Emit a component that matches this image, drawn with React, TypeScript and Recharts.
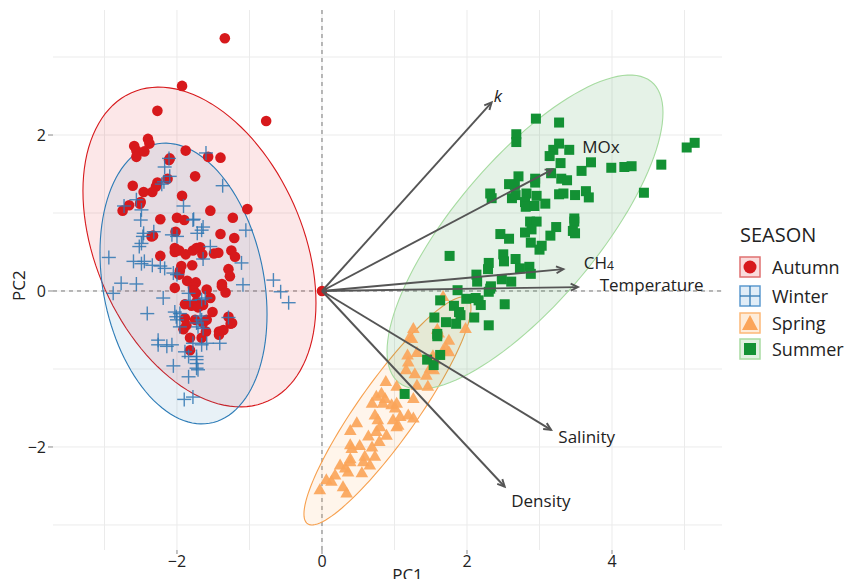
import React from 'react'
import { ScatterChart, Scatter, XAxis, YAxis, CartesianGrid, ReferenceLine } from 'recharts'

// axis ranges, ticks, grid
const X_DOMAIN = [-3.71, 5.517]
const Y_DOMAIN = [-3.321, 3.603]
const X_TICKS = [-2, 0, 2, 4]
const Y_TICKS = [-2, 0, 2]
const X_GRID = [-3, -2, -1, 0, 1, 2, 3, 4, 5]
const Y_GRID = [-3, -2, -1, 0, 1, 2, 3]

const SEASONS = ['Autumn', 'Winter', 'Spring', 'Summer']

// PC scores
const autumn = [
  [-1.34, 3.24], [-1.93, 2.63], [-2.27, 2.31], [-0.77, 2.18], [-2.40, 1.95], [-2.38, 1.89], [-2.59, 1.86],
  [-2.56, 1.80], [-2.56, 1.72], [-2.45, 1.79], [-1.88, 1.80], [-1.57, 1.72], [-1.40, 1.71], [-2.11, 1.68],
  [-2.10, 1.70], [-1.75, 1.47], [-2.13, 1.44], [-2.27, 1.39], [-2.29, 1.34], [-2.34, 1.27], [-2.46, 1.27],
  [-2.61, 1.35], [-2.50, 1.14], [-2.51, 1.12], [-2.66, 1.10], [-2.75, 1.03], [-1.93, 1.22], [-1.54, 1.03],
  [-1.03, 1.05], [-1.23, 0.94], [-2.23, 0.92], [-2.00, 0.94], [-1.90, 0.91], [-1.40, 0.73], [-1.21, 0.68],
  [-2.33, 0.71], [-2.35, 0.70], [-2.02, 0.76], [-2.03, 0.55], [-2.03, 0.50], [-1.97, 0.52], [-1.88, 0.47],
  [-1.78, 0.52], [-1.73, 0.55], [-1.68, 0.56], [-1.65, 0.47], [-1.49, 0.48], [-1.43, 0.49], [-1.25, 0.52],
  [-1.20, 0.44], [-2.23, 0.45], [-1.79, 0.33], [-1.94, 0.32], [-1.96, 0.26], [-1.97, 0.21], [-1.29, 0.28],
  [-1.27, 0.19], [-1.86, 0.13], [-1.74, 0.11], [-1.78, 0.05], [-1.77, 0.01], [-1.74, -0.03], [-2.03, 0.04],
  [-1.59, 0.02], [-1.38, 0.09], [-1.38, 0.06], [-1.33, -0.02], [-1.54, -0.09], [-1.89, -0.17], [-1.80, -0.19],
  [-1.73, -0.14], [-1.68, -0.19], [-1.64, -0.18], [-1.71, -0.21], [-1.51, -0.27], [-1.89, -0.35], [-1.87, -0.44],
  [-1.91, -0.49], [-1.75, -0.37], [-1.64, -0.41], [-1.59, -0.37], [-1.60, -0.52], [-1.66, -0.60], [-1.82, -0.60],
  [-1.82, -0.76], [-1.29, -0.33], [-1.26, -0.42], [-1.24, -0.41], [-1.42, -0.52], [-1.36, -0.50], [-1.42, -0.56],
  [0.0, 0.0],
]

const winter = [
  [-2.11, 1.70], [-2.17, 1.59], [-1.60, 1.77], [-2.10, 1.47], [-2.18, 1.40], [-2.21, 1.37], [-1.37, 1.35],
  [-2.56, 1.17], [-2.73, 1.09], [-2.49, 1.04], [-2.50, 0.91], [-1.91, 1.09], [-1.77, 0.92], [-1.64, 0.82],
  [-1.72, 0.74], [-1.66, 0.78], [-2.46, 0.74], [-2.32, 0.76], [-2.07, 0.72], [-2.00, 0.70], [-1.05, 0.78],
  [-1.78, 0.91], [-2.47, 0.70], [-2.52, 0.57], [-2.49, 0.61], [-1.54, 0.57], [-2.94, 0.43], [-2.60, 0.38],
  [-2.49, 0.35], [-2.45, 0.38], [-2.34, 0.33], [-2.23, 0.32], [-2.17, 0.29], [-2.05, 0.23], [-2.00, 0.21],
  [-1.64, 0.41], [-1.11, 0.36], [-2.77, 0.10], [-2.56, 0.09], [-2.88, -0.03], [-1.09, 0.08], [-0.67, 0.14],
  [-0.57, -0.01], [-0.46, -0.15], [-2.19, -0.09], [-1.84, -0.03], [-1.82, -0.12], [-1.66, -0.11], [-1.61, -0.09],
  [-2.41, -0.29], [-2.03, -0.27], [-2.01, -0.33], [-1.96, -0.29], [-2.00, -0.37], [-1.68, -0.32], [-1.66, -0.37],
  [-1.73, -0.41], [-1.71, -0.46], [-1.64, -0.48], [-1.29, -0.34], [-1.96, -0.46], [-2.26, -0.63], [-2.26, -0.69],
  [-2.14, -0.71], [-2.07, -0.69], [-1.89, -0.78], [-1.84, -0.84], [-1.73, -0.84], [-1.78, -0.67], [-1.66, -0.69],
  [-1.59, -0.67], [-1.41, -0.67], [-1.73, -0.93], [-1.73, -0.99], [-2.05, -0.96], [-1.84, -1.10], [-1.90, -1.39],
  [-1.78, -1.36], [-1.73, -0.88], [-1.71, -1.01],
]

const spring = [
  [1.67, -0.07], [1.98, -0.48], [1.26, -0.48], [1.21, -0.59], [1.24, -0.61], [1.75, -0.63], [1.59, -0.49],
  [1.61, -0.54], [1.71, -0.73], [1.31, -0.79], [1.18, -0.82], [1.19, -0.91], [1.16, -1.01], [1.28, -1.06],
  [1.44, -1.08], [1.53, -0.83], [1.55, -0.88], [1.67, -0.76], [1.75, -0.78], [1.54, -1.01], [1.49, -0.99],
  [1.31, -1.21], [1.46, -1.22], [1.26, -1.38], [0.88, -1.16], [1.03, -1.22], [0.82, -1.31], [0.75, -1.35],
  [0.69, -1.44], [0.87, -1.38], [0.84, -1.44], [0.96, -1.46], [1.03, -1.44], [1.01, -1.50], [1.08, -1.61],
  [1.19, -1.59], [1.26, -1.63], [1.03, -1.74], [0.98, -1.65], [1.05, -1.72], [0.73, -1.59], [0.77, -1.65],
  [0.80, -1.74], [0.75, -1.80], [0.48, -1.69], [0.39, -1.79], [0.64, -1.86], [0.89, -1.85], [0.79, -1.93],
  [0.69, -2.00], [0.73, -2.12], [0.52, -1.98], [0.39, -1.97], [0.41, -2.02], [0.25, -2.23], [0.59, -2.12],
  [0.57, -2.19], [0.66, -2.23], [0.39, -2.19], [0.32, -2.27], [0.36, -2.32], [0.55, -2.33], [0.06, -2.42],
  [0.18, -2.36], [0.13, -2.44], [-0.03, -2.55], [0.29, -2.51], [0.34, -2.59], [0.39, -2.15],
]

const summer = [
  [2.95, 2.21], [3.27, 2.16], [2.68, 2.01], [2.68, 1.91], [3.27, 1.89], [3.19, 1.81], [3.14, 1.73],
  [3.41, 1.81], [3.29, 1.64], [3.71, 1.65], [3.58, 1.54], [3.16, 1.51], [3.99, 1.58], [4.17, 1.59],
  [4.27, 1.60], [4.68, 1.62], [5.03, 1.84], [5.14, 1.90], [4.44, 1.26], [2.71, 1.47], [2.58, 1.37],
  [2.66, 1.36], [2.94, 1.44], [2.94, 1.39], [3.30, 1.44], [3.38, 1.42], [2.32, 1.25], [2.34, 1.19],
  [2.62, 1.19], [2.67, 1.23], [2.82, 1.25], [2.80, 1.14], [2.81, 1.08], [2.96, 1.22], [2.93, 1.09],
  [3.08, 1.12], [3.27, 1.24], [3.33, 1.25], [3.49, 1.23], [3.64, 1.28], [3.68, 1.20], [2.87, 0.89],
  [2.96, 0.89], [2.89, 0.79], [2.80, 0.75], [2.46, 0.73], [2.58, 0.67], [3.23, 0.82], [3.15, 0.71],
  [3.48, 0.93], [3.48, 0.89], [3.46, 0.77], [3.49, 0.74], [2.88, 0.62], [3.00, 0.53], [3.03, 0.58],
  [2.50, 0.47], [2.51, 0.38], [2.67, 0.41], [2.30, 0.36], [2.29, 0.28], [2.13, 0.21], [2.48, 0.15],
  [2.61, 0.12], [2.73, 0.29], [2.86, 0.31], [2.88, 0.22], [2.33, 0.06], [1.76, 0.45], [2.14, 0.12],
  [1.87, 0.01], [2.32, 0.03], [2.30, -0.01], [1.63, -0.12], [1.99, -0.10], [2.12, -0.09], [2.16, -0.12],
  [2.19, -0.18], [2.52, -0.17], [1.82, -0.19], [1.89, -0.27], [1.91, -0.31], [1.55, -0.34], [1.71, -0.40],
  [1.85, -0.42], [2.10, -0.34], [2.30, -0.44], [1.59, -0.55], [1.59, -0.58], [1.63, -0.82], [1.45, -0.88],
  [1.54, -0.95], [1.14, -1.32],
]

// normal ellipses per season: centre, spread on each axis, correlation
const ellipses = [
  { cx: -1.69, cy: 0.564, sx: 1.607, sy: 2.05, r: -0.35 },
  { cx: -1.91, cy: 0.096, sx: 1.152, sy: 1.8, r: -0.22 },
  { cx: 0.903, cy: -1.538, sx: 1.152, sy: 1.462, r: 0.904 },
  { cx: 2.8, cy: 0.756, sx: 1.903, sy: 2.013, r: 0.761 },
]

// loadings (arrow tips) and where their names sit
const variables = ['k', 'MOx', 'CH4', 'Temperature', 'Salinity', 'Density']
const loadX = [2.34, 3.18, 3.33, 3.53, 3.16, 2.52]
const loadY = [2.42, 1.56, 0.28, 0.05, -1.78, -2.51]
const labelX = [2.37, 3.59, 3.61, 3.83, 3.26, 2.61]
const labelY = [2.51, 1.85, 0.36, 0.08, -1.87, -2.68]

const COLORS = ['#d7191c', '#2f77b3', '#fba55a', '#139134']
const ELL_STROKE = ['#d7191c', '#2c7bb6', '#f7a04e', '#a6dba0']
const ELL_FILL = ['rgba(230,40,45,0.11)', 'rgba(44,123,182,0.11)', 'rgba(253,174,97,0.13)', 'rgba(40,150,60,0.12)']
const KEY_FILL = ['#fadcdc', '#e1edf7', '#feecd9', '#e2f1e2']
const KEY_BORDER = ['#e07070', '#5d9bd0', '#fdb877', '#a9dca3']

const toPts = (arr: number[][]) => arr.map(([x, y]) => ({ x, y }))
const groups = [autumn, winter, spring, summer].map(toPts)

const ellipsePath = (e: any) => {
  const out: { x: number; y: number }[] = []
  const s = Math.sqrt(1 - e.r * e.r)
  for (let i = 0; i <= 120; i++) {
    const t = (i / 120) * Math.PI * 2
    out.push({ x: e.cx + e.sx * Math.cos(t), y: e.cy + e.sy * (e.r * Math.cos(t) + s * Math.sin(t)) })
  }
  return out
}

const fmt = (v: number) => String(v).replace('-', '\u2212')

const shapes = [
  (p: any) => <circle cx={p.cx} cy={p.cy} r={5.3} fill={COLORS[0]} />,
  (p: any) => (
    <g stroke={COLORS[1]} strokeWidth={1.4} opacity={0.85}>
      <line x1={p.cx - 7} x2={p.cx + 7} y1={p.cy} y2={p.cy} />
      <line x1={p.cx} x2={p.cx} y1={p.cy - 7} y2={p.cy + 7} />
    </g>
  ),
  (p: any) => (
    <polygon
      points={`${p.cx},${p.cy - 6.5} ${p.cx - 6.3},${p.cy + 4.5} ${p.cx + 6.3},${p.cy + 4.5}`}
      fill={COLORS[2]}
      opacity={0.92}
    />
  ),
  (p: any) => <rect x={p.cx - 5} y={p.cy - 5} width={10} height={10} fill={COLORS[3]} />,
]

const arrowLine = (p: any) => {
  const [a, b] = p.points
  const ang = Math.atan2(b.y - a.y, b.x - a.x)
  const L = 8
  const w = Math.PI / 7
  const h1 = `${b.x - L * Math.cos(ang - w)},${b.y - L * Math.sin(ang - w)}`
  const h2 = `${b.x - L * Math.cos(ang + w)},${b.y - L * Math.sin(ang + w)}`
  return (
    <g stroke="#555" strokeWidth={1.9} fill="none">
      <line x1={a.x} y1={a.y} x2={b.x} y2={b.y} />
      <polyline points={`${h1} ${b.x},${b.y} ${h2}`} strokeLinejoin="miter" />
    </g>
  )
}

const varLabel = (p: any) => {
  const name = p.payload.name
  let content: any = name
  if (name === 'CH4') content = <>CH<tspan fontSize={12} dy={2}>4</tspan></>
  return (
    <text
      x={p.cx}
      y={p.cy}
      fontSize={17}
      fill="#222"
      dominantBaseline="central"
      fontStyle={name === 'k' ? 'italic' : 'normal'}
    >
      {content}
    </text>
  )
}

const Legend = () => (
  <div style={{ position: 'absolute', left: 739, top: 222, fontFamily: 'Open Sans', color: '#222' }}>
    <div style={{ fontSize: 20, lineHeight: '26px', marginLeft: 1 }}>SEASON</div>
    {SEASONS.map((s, i) => (
      <div key={s} style={{ position: 'absolute', top: [33, 62, 89, 115][i], left: 0, display: 'flex', alignItems: 'center', whiteSpace: 'nowrap' }}>
        <svg width={22} height={22}>
          <rect x={1} y={1} width={20} height={20} fill={KEY_FILL[i]} stroke={KEY_BORDER[i]} strokeWidth={1.5} />
          {i === 0 && <circle cx={11} cy={11} r={6.5} fill={COLORS[0]} />}
          {i === 1 && (
            <g stroke={COLORS[1]} strokeWidth={1.5} opacity={0.85}>
              <line x1={1} x2={21} y1={11} y2={11} />
              <line x1={11} x2={11} y1={1} y2={21} />
            </g>
          )}
          {i === 2 && <polygon points="11,3 3,18 19,18" fill={COLORS[2]} />}
          {i === 3 && <rect x={5} y={5} width={12} height={12} fill={COLORS[3]} />}
        </svg>
        <span style={{ fontSize: 18, marginLeft: 11 }}>{s}</span>
      </div>
    ))}
  </div>
)

export default function App() {
  const arrowData = variables.map((n, i) => [
    { x: 0, y: 0 },
    { x: loadX[i], y: loadY[i] },
  ])
  const labelData = variables.map((name, i) => ({ name, x: labelX[i], y: labelY[i] }))

  return (
    <div style={{ position: 'absolute', left: 0, top: 0, width: 845, height: 579, background: '#fff' }}>
      <ScatterChart
        width={845}
        height={579}
        margin={{ top: 10, right: 123, bottom: 0, left: 0 }}
        style={{ fontFamily: 'Open Sans' }}
      >
        <CartesianGrid stroke="#ebebeb" verticalValues={X_GRID} horizontalValues={Y_GRID} />
        <XAxis
          type="number"
          dataKey="x"
          domain={X_DOMAIN}
          allowDataOverflow
          ticks={X_TICKS}
          tickFormatter={fmt}
          axisLine={false}
          tickLine={{ stroke: '#888' }}
          tickSize={4}
          tickMargin={2}
          height={29}
          tick={{ fill: '#222', fontSize: 16 }}
          label={{ value: 'PC1', position: 'insideBottom', offset: -2, dx: 20, fontSize: 17, fill: '#222' }}
        />
        <YAxis
          type="number"
          dataKey="y"
          domain={Y_DOMAIN}
          allowDataOverflow
          ticks={Y_TICKS}
          tickFormatter={fmt}
          axisLine={false}
          tickLine={{ stroke: '#888' }}
          tickSize={5}
          tickMargin={2}
          width={53}
          tick={{ fill: '#222', fontSize: 16 }}
          label={{ value: 'PC2', angle: -90, position: 'insideLeft', offset: 19, dy: 21, fontSize: 17, fill: '#222' }}
        />
        <ReferenceLine x={0} stroke="#777" strokeDasharray="4 4" />
        <ReferenceLine y={0} stroke="#777" strokeDasharray="4 4" />
        {ellipses.map((e, i) => (
          <Scatter
            key={'ell' + i}
            data={ellipsePath(e)}
            isAnimationActive={false}
            shape={() => <g />}
            line={(p: any) => (
              <path
                d={'M' + p.points.map((q: any) => `${q.x},${q.y}`).join('L') + 'Z'}
                fill={ELL_FILL[i]}
                stroke={ELL_STROKE[i]}
                strokeWidth={1.1}
              />
            )}
          />
        ))}
        {groups.map((g, i) => (
          <Scatter key={SEASONS[i]} name={SEASONS[i]} data={g} shape={shapes[i]} isAnimationActive={false} />
        ))}
        {arrowData.map((d, i) => (
          <Scatter key={variables[i]} data={d} shape={() => <g />} line={arrowLine} isAnimationActive={false} />
        ))}
        <Scatter data={labelData} shape={varLabel} isAnimationActive={false} />
      </ScatterChart>
      <Legend />
    </div>
  )
}
